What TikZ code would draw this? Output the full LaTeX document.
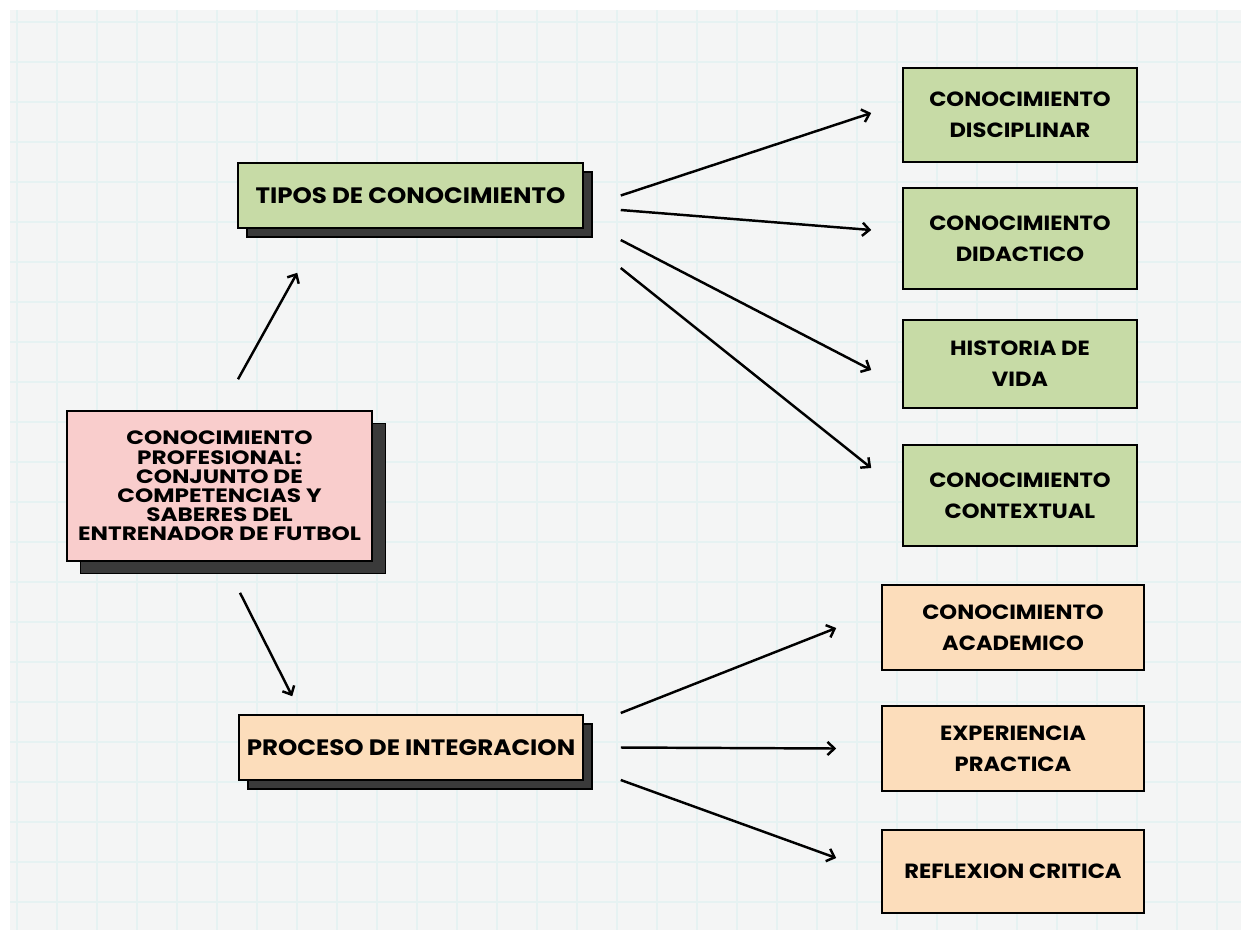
\documentclass[tikz,border=0pt]{standalone}
\usepackage{fontspec}
\setmainfont{Poppins}[FakeStretch=1.1]
\newfontfamily\widefont{Poppins}[FakeStretch=1.2]
\usetikzlibrary{arrows.meta,shadows,calc}

\definecolor{pinkbox}{RGB}{249,205,204}
\definecolor{greenbox}{RGB}{199,219,166}
\definecolor{peachbox}{RGB}{252,221,187}
\definecolor{shadowgray}{RGB}{58,58,58}
\definecolor{paper}{RGB}{244,245,245}
\definecolor{gridline}{RGB}{230,242,242}

\begin{document}
\begin{tikzpicture}[x=0.02cm, y=-0.02cm,
  box/.style={draw=black, line width=0.9pt, align=center, inner sep=2pt,
    font=\bfseries\fontsize{11.7}{17.6}\selectfont},
  shadowbox/.style={box, copy shadow={shadow xshift=0.18cm, shadow yshift=-0.18cm,
    fill=shadowgray, draw=black, line width=0.9pt}},
  arr/.style={line width=1.4pt, -{Straight Barb[length=4pt,width=7.5pt]}}]

% paper with grid
\useasboundingbox (0,0) rectangle (1249,938);
\fill[white] (0,0) rectangle (1249,938);
\fill[paper] (10,10) rectangle (1241,930);
\foreach \gx in {17,57,...,1240} \draw[gridline, line width=0.6pt] (\gx,10) -- (\gx,930);
\foreach \gy in {22,62,...,930} \draw[gridline, line width=0.6pt] (10,\gy) -- (1241,\gy);

% main box
\node[box, fill=pinkbox, minimum width=6.1cm, minimum height=3cm,
  copy shadow={shadow xshift=0.27cm, shadow yshift=-0.25cm, fill=shadowgray, draw=black, line width=0.9pt},
  font=\widefont\bfseries\fontsize{11}{10.9}\selectfont] (profesional) at (219.5,486)
  {CONOCIMIENTO\\PROFESIONAL:\\CONJUNTO DE\\COMPETENCIAS Y\\SABERES DEL\\ENTRENADOR DE FUTBOL};

% second layer
\node[shadowbox, fill=greenbox, minimum width=6.9cm, minimum height=1.3cm,
  font=\bfseries\fontsize{12.7}{14}\selectfont] (tipos) at (410.5,195.5) {TIPOS DE CONOCIMIENTO};
\node[shadowbox, fill=peachbox, minimum width=6.88cm, minimum height=1.3cm,
  font=\bfseries\fontsize{12.7}{14}\selectfont] (proceso) at (411,747.5) {PROCESO DE INTEGRACION};

\draw[arr] ($(profesional.north)+(18.5,-31)$) -- ($(tipos.south west)+(60,44)$);
\draw[arr] ($(profesional.south)+(20.5,31)$) -- ($(proceso.north west)+(54,-18)$);

% kinds of knowledge
\pgfmathsetmacro\x{1020}
\node[box, fill=greenbox, minimum width=4.68cm, minimum height=1.88cm] (disciplinar) at (\x,115) {CONOCIMIENTO\\DISCIPLINAR};
\node[box, fill=greenbox, minimum width=4.68cm, minimum height=2.02cm] (didactico) at (\x,238.5) {CONOCIMIENTO\\DIDACTICO};
\node[box, fill=greenbox, minimum width=4.68cm, minimum height=1.76cm] (historia) at (\x,364) {HISTORIA DE\\VIDA};
\node[box, fill=greenbox, minimum width=4.68cm, minimum height=2.02cm] (contextual) at (\x,495.5) {CONOCIMIENTO\\CONTEXTUAL};

\draw[arr] ($(tipos.east)+(37,0)$) -- ($(disciplinar.west)+(-31,-2)$);
\draw[arr] ($(tipos.east)+(37,14.5)$) -- ($(didactico.west)+(-31,-8.5)$);
\draw[arr] ($(tipos.east)+(37,44.5)$) -- ($(historia.west)+(-31,6)$);
\draw[arr] ($(tipos.east)+(37,72.5)$) -- ($(contextual.west)+(-31,-27.5)$);

% integration process
\pgfmathsetmacro\x{1013}
\node[box, fill=peachbox, minimum width=5.24cm, minimum height=1.7cm] (academico) at (\x,627.5) {CONOCIMIENTO\\ACADEMICO};
\node[box, fill=peachbox, minimum width=5.24cm, minimum height=1.7cm] (experiencia) at (\x,748.5) {EXPERIENCIA\\PRACTICA};
\node[box, fill=peachbox, minimum width=5.24cm, minimum height=1.66cm] (reflexion) at (\x,871.5) {REFLEXION CRITICA};

\draw[arr] ($(proceso.east)+(37,-34.5)$) -- ($(academico.west)+(-45,0.5)$);
\draw[arr] ($(proceso.east)+(37,0)$) -- ($(experiencia.west)+(-45,0)$);
\draw[arr] ($(proceso.east)+(37,32.5)$) -- ($(reflexion.west)+(-45,-13.5)$);

\end{tikzpicture}
\end{document}
